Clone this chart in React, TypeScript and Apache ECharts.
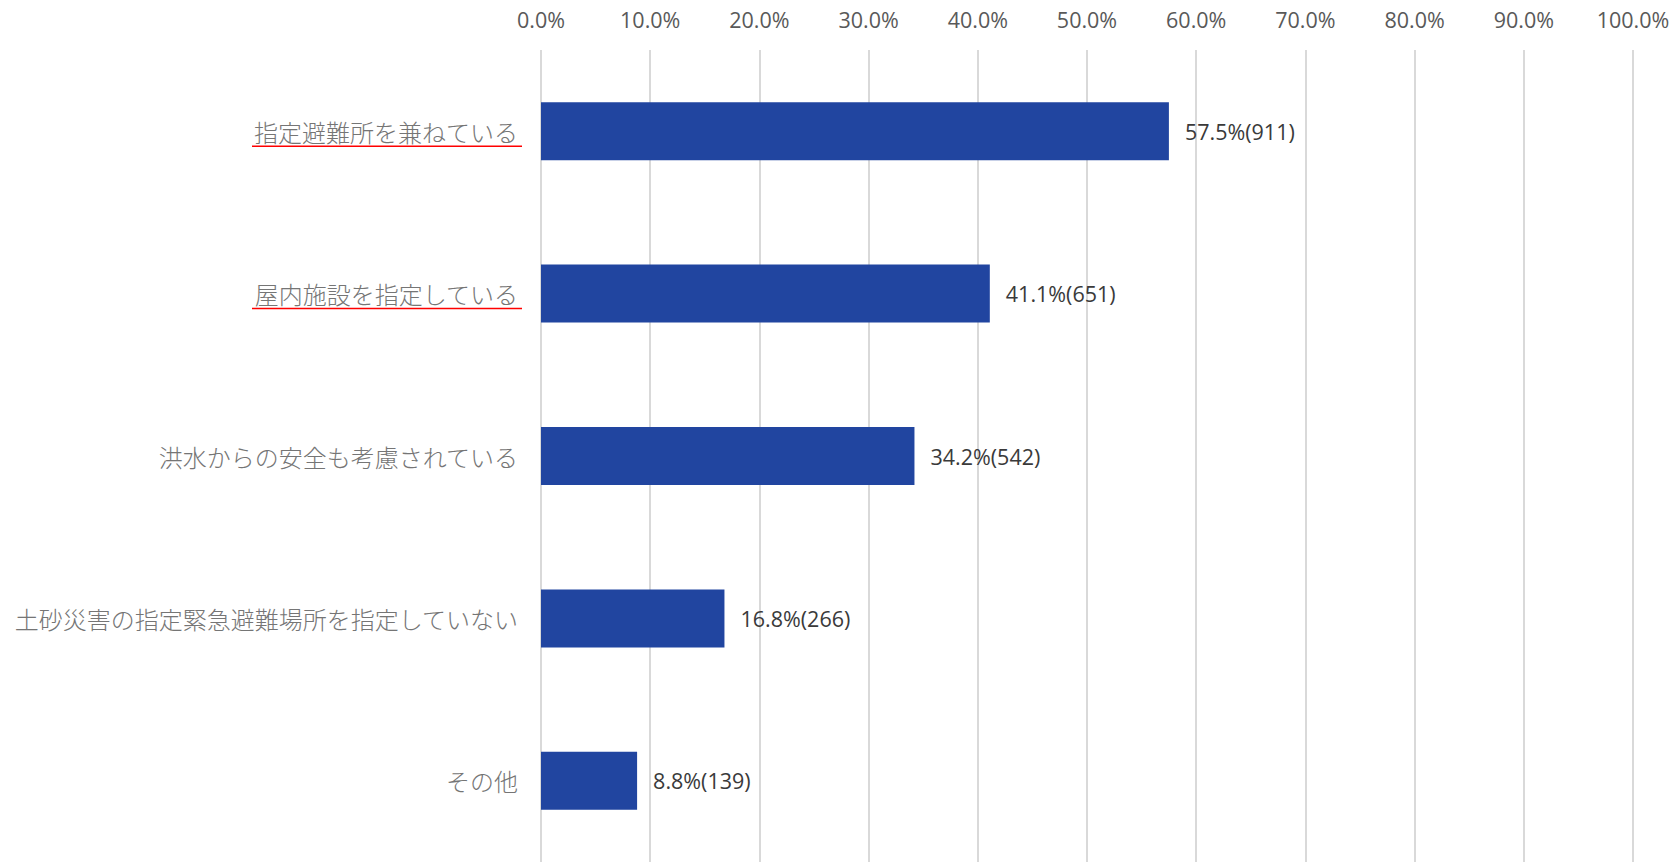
import React, { useEffect, useRef } from "react";
import * as echarts from "echarts";

const categories = [
  "指定避難所を兼ねている",
  "屋内施設を指定している",
  "洪水からの安全も考慮されている",
  "土砂災害の指定緊急避難場所を指定していない",
  "その他",
];
const percentValues = [57.5, 41.1, 34.2, 16.8, 8.8];
const counts = [911, 651, 542, 266, 139];
const underlined = ["指定避難所を兼ねている", "屋内施設を指定している"];
const tickValues = [0, 10, 20, 30, 40, 50, 60, 70, 80, 90, 100];

export default function App() {
  const ref = useRef<HTMLDivElement>(null);
  useEffect(() => {
    if (!ref.current) return;
    const chart = echarts.init(ref.current, null, { renderer: "svg" });
    const option: any = {
      animation: false,
      backgroundColor: "#ffffff",
      grid: { left: 541, right: 47, top: 50, bottom: 0, containLabel: false },
      xAxis: {
        type: "value",
        position: "top",
        min: tickValues[0],
        max: tickValues[tickValues.length - 1],
        interval: 10,
        axisLine: { show: false },
        axisTick: { show: false },
        axisLabel: {
          margin: 20,
          fontSize: 21.5,
          color: "#595959",
          fontFamily: "'Open Sans', 'Noto Sans', sans-serif",
          formatter: (v: number) => v.toFixed(1) + "%",
        },
        splitLine: { show: true, lineStyle: { color: "#d9d9d9", width: 2 } },
      },
      yAxis: {
        type: "category",
        data: categories,
        inverse: true,
        axisLine: { show: false },
        axisTick: { show: false },
        axisLabel: {
          margin: 23,
          fontSize: 24,
          color: "#757575",
          fontFamily: "'Noto Sans CJK JP', sans-serif",
          fontWeight: 300,
          padding: [0, 0, 8, 0],
        },
        splitLine: { show: false },
      },
      series: [
        {
          type: "bar",
          data: percentValues,
          barWidth: 58,
          itemStyle: { color: "#2145a0" },
          label: {
            show: true,
            position: "right",
            distance: 16,
            fontSize: 21.5,
            color: "#3a3a3a",
            fontFamily: "'Open Sans', 'Noto Sans', sans-serif",
            formatter: (p: any) => p.value.toFixed(1) + "%(" + counts[p.dataIndex] + ")",
          },
        },
      ],
    };
    chart.setOption(option);
    const graphics: any[] = [];
    underlined.forEach((c) => {
      const y = chart.convertToPixel({ yAxisIndex: 0 }, c) as number;
      const x0 = chart.convertToPixel({ xAxisIndex: 0 }, 0) as number;
      graphics.push({
        type: "line",
        shape: { x1: 252, y1: y + 15, x2: x0 - 19, y2: y + 15 },
        style: { stroke: "#ff0000", lineWidth: 1.5 },
      });
    });
    chart.setOption({ graphic: graphics });
    return () => chart.dispose();
  }, []);
  return (
    <div
      ref={ref}
      style={{ position: "absolute", left: 0, top: 0, width: 1680, height: 862 }}
    />
  );
}
